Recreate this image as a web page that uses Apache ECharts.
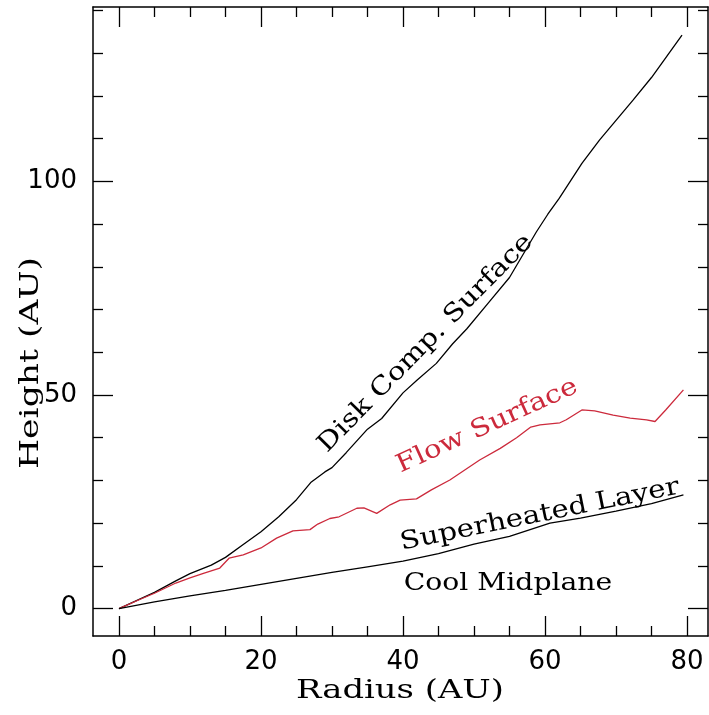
<!DOCTYPE html>
<html><head><meta charset="utf-8">
<script src="https://cdn.jsdelivr.net/npm/echarts@6/dist/echarts.min.js"></script>
<style>html,body{margin:0;padding:0;background:#fff}#c{width:709px;height:715px}</style>
</head><body><div id="c"></div>
<script>
// ---- data ----
const diskR = [0, 5, 8, 10, 13, 15, 17.5, 20, 22.5, 25, 27, 29, 30, 32, 35, 37, 40, 42, 44.7, 47, 49, 52, 55, 58.8, 60.4, 62, 65.2, 67.7, 72.4, 75, 79.3];
const diskH = [0, 3.8, 6.5, 8.2, 10.2, 12, 15, 18, 21.5, 25.5, 29.5, 32, 33, 36.5, 42, 44.5, 50.5, 53.5, 57.4, 62, 65.5, 71.5, 77.5, 88.2, 92.3, 96, 104.2, 109.7, 119, 124.3, 134.2];
const flowR = [0, 3, 5, 8, 10, 12, 14.2, 15.5, 17.5, 20, 22.2, 24.5, 26.9, 28, 29.7, 31, 33.5, 34.5, 36.3, 38.2, 39.6, 41.9, 44, 46.6, 50.8, 53.7, 56, 58, 59.3, 62.1, 63, 65.2, 67, 69.6, 72, 74.3, 75.5, 77, 79.5];
const flowH = [0, 2.2, 3.6, 6, 7.2, 8.3, 9.5, 11.8, 12.6, 14.2, 16.5, 18.2, 18.5, 19.8, 21.1, 21.5, 23.5, 23.6, 22.3, 24.3, 25.4, 25.7, 27.8, 30.1, 34.8, 37.5, 40, 42.5, 43, 43.5, 44.2, 46.5, 46.3, 45.3, 44.6, 44.2, 43.8, 46.5, 51.2];
const midR = [0, 5, 10, 15, 20, 25, 30, 35, 40, 45, 50, 55, 60.7, 65, 70, 75, 79.5];
const midH = [0, 1.6, 3.0, 4.3, 5.7, 7.1, 8.5, 9.8, 11.1, 12.9, 15.1, 16.9, 20.0, 21.2, 22.8, 24.6, 26.6];

const xMajorTicks = [0, 20, 40, 60, 80];
const xMinorTicks = [5, 10, 15, 25, 30, 35, 45, 50, 55, 65, 70, 75];
const yMajorTicks = [0, 50, 100];
const yMinorTicks = [10, 20, 30, 40, 60, 70, 80, 90, 110, 120, 130, 140];
const xTitle = 'Radius (AU)';
const yTitle = 'Height (AU)';
const curveNames = ['Disk Comp. Surface', 'Flow Surface', 'Superheated Layer', 'Cool Midplane'];
const labelR = [29.9, 40.0, 40.0, 40.1];
const labelH = [35.4, 30.5, 12.4, 3.0];
const labelAngle = [45.5, 24.5, 11.5, 0];

const X_MIN = -3.66, X_MAX = 82.96, Y_MIN = -6.4, Y_MAX = 140.8;
const RED = '#cc2a3c';
const SERIF = '"DejaVu Serif", serif';

function pairs(a, b) { return a.map((v, i) => [v, b[i]]); }

function xAx(pos, ticks, len, showLine, labels) {
  return {
    type: 'value', min: X_MIN, max: X_MAX, position: pos,
    axisLine: { show: showLine, onZero: false, lineStyle: { color: '#000', width: 1.5 } },
    axisTick: { show: true, inside: true, length: len, customValues: ticks, lineStyle: { color: '#000', width: 1.3 } },
    axisLabel: labels ? { show: true, customValues: ticks, margin: 13, color: '#000', fontSize: 26, fontFamily: '"DejaVu Sans", sans-serif' } : { show: false },
    splitLine: { show: false }
  };
}
function yAx(pos, ticks, len, showLine, labels) {
  return {
    type: 'value', min: Y_MIN, max: Y_MAX, position: pos,
    axisLine: { show: showLine, onZero: false, lineStyle: { color: '#000', width: 1.5 } },
    axisTick: { show: true, inside: true, length: len, customValues: ticks, lineStyle: { color: '#000', width: 1.3 } },
    axisLabel: labels ? { show: true, customValues: ticks, margin: 16, color: '#000', fontSize: 26, fontFamily: '"DejaVu Sans", sans-serif' } : { show: false },
    splitLine: { show: false }
  };
}

const chart = echarts.init(document.getElementById('c'), null, { renderer: 'canvas' });
const lineStyle = (c) => ({ color: c, width: 1.3 });
chart.setOption({
  animation: false,
  backgroundColor: '#fff',
  grid: { left: 93, right: 1, top: 7, bottom: 79 },
  xAxis: [
    xAx('bottom', xMajorTicks, 20, true, true),
    xAx('bottom', xMinorTicks, 10, false, false),
    xAx('top', xMajorTicks, 20, true, false),
    xAx('top', xMinorTicks, 10, false, false)
  ],
  yAxis: [
    yAx('left', yMajorTicks, 20, true, true),
    yAx('left', yMinorTicks, 10, false, false),
    yAx('right', yMajorTicks, 20, true, false),
    yAx('right', yMinorTicks, 10, false, false)
  ],
  series: [
    { name: curveNames[0], type: 'line', data: pairs(diskR, diskH), showSymbol: false, symbol: 'none', lineStyle: lineStyle('#000'), itemStyle: { color: '#000' } },
    { name: curveNames[1], type: 'line', data: pairs(flowR, flowH), showSymbol: false, symbol: 'none', lineStyle: lineStyle(RED), itemStyle: { color: RED } },
    { name: curveNames[2], type: 'line', data: pairs(midR, midH), showSymbol: false, symbol: 'none', lineStyle: lineStyle('#000'), itemStyle: { color: '#000' } }
  ]
});

const colors = ['#000', RED, '#000', '#000'];
const scales = [1.17, 1.17, 1.17, 1.13];
const g = [];
curveNames.forEach((t, i) => {
  const p = chart.convertToPixel({ xAxisIndex: 0, yAxisIndex: 0 }, [labelR[i], labelH[i]]);
  g.push({
    type: 'text', x: p[0], y: p[1], rotation: labelAngle[i] * Math.PI / 180, scaleX: scales[i],
    style: { text: t, fill: colors[i], font: '25px ' + SERIF, align: 'left', verticalAlign: 'bottom' },
    silent: true
  });
});
g.push({ type: 'text', x: 400, y: 691, scaleX: 1.3,
  style: { text: xTitle, fill: '#000', font: '26px ' + SERIF, align: 'center', verticalAlign: 'middle' } });
g.push({ type: 'text', x: 31, y: 363, rotation: Math.PI / 2, scaleX: 1.33,
  style: { text: yTitle, fill: '#000', font: '26px ' + SERIF, align: 'center', verticalAlign: 'middle' } });
chart.setOption({ graphic: g });
</script>
</body></html>
